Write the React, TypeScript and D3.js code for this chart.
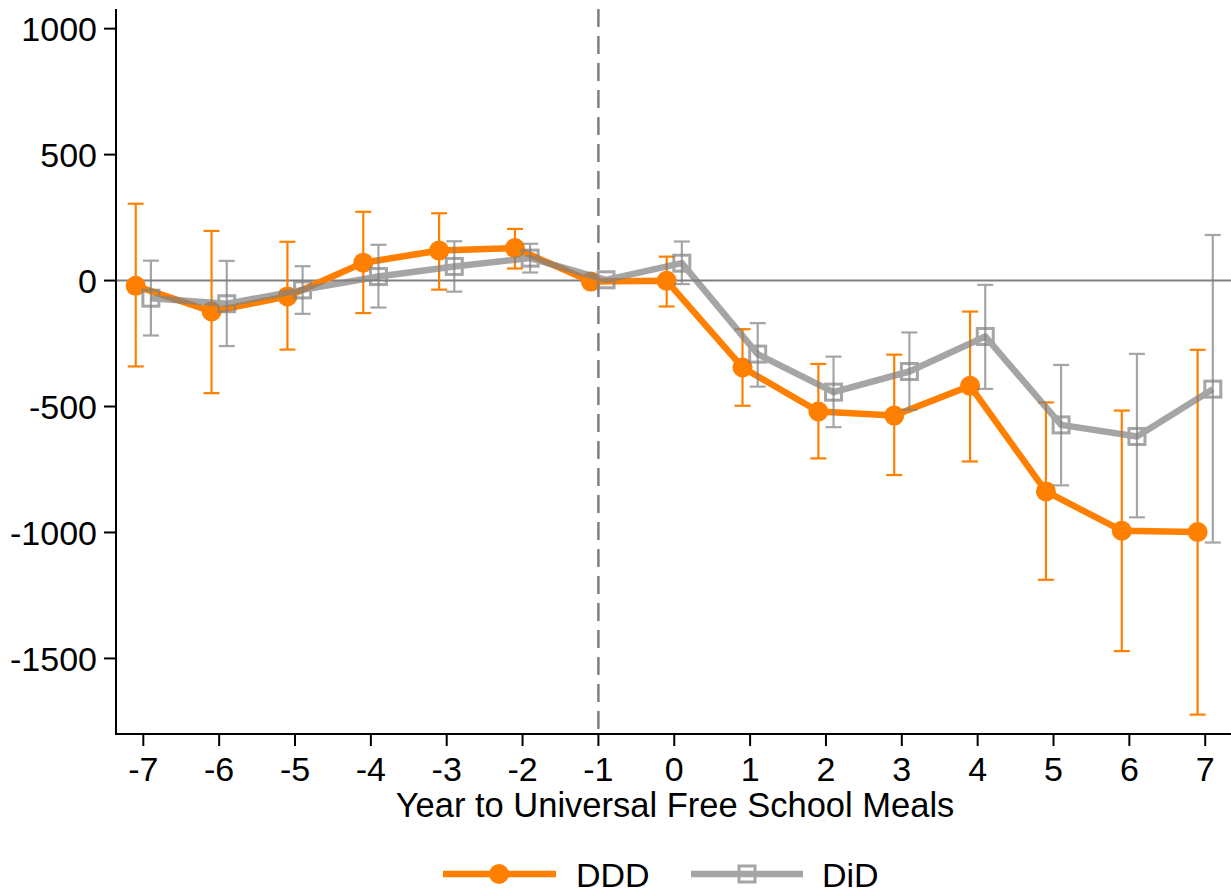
import React from "react";
import * as d3 from "d3";

// event time
const years = [-7, -6, -5, -4, -3, -2, -1, 0, 1, 2, 3, 4, 5, 6, 7];

// DDD estimates (orange, circles); reference year -1 has no CI
const dddEst = [-21, -123, -63, 71, 119, 129, -4, -1, -345, -520, -536, -418, -837, -993, -998];
const dddLo = [-341, -447, -274, -129, -36, 48, null, -103, -497, -706, -772, -718, -1188, -1471, -1723];
const dddHi = [305, 197, 154, 273, 267, 205, null, 95, -193, -331, -294, -123, -484, -516, -275];

// DiD estimates (gray, hollow squares)
const didEst = [-70, -92, -37, 16, 56, 89, 3, 69, -292, -443, -361, -222, -573, -619, -431];
const didLo = [-218, -260, -132, -107, -44, 32, null, -14, -421, -582, -513, -430, -813, -940, -1040];
const didHi = [79, 78, 57, 142, 156, 146, null, 155, -169, -302, -206, -17, -335, -291, 181];

const yTicks = [1000, 500, 0, -500, -1000, -1500];
const xTitle = "Year to Universal Free School Meals";

const ORANGE = "#ff8000";
const GRAY = "#808080";
const FONT = "'Liberation Sans', Arial, Helvetica, sans-serif";

export default function App() {
  const W = 1231, H = 895;
  const margin = { top: 9, right: 0, bottom: 161, left: 116 };

  const x = d3.scaleLinear().domain([-7.36, 7.34]).range([margin.left, W - margin.right]);
  const y = d3.scaleLinear().domain([-1800, 1078]).range([H - margin.bottom, margin.top]);

  const off = 0.1;
  const cap = 8;

  const dddPts = years.map((yr, i) => [x(yr - off), y(dddEst[i])] as [number, number]);
  const didPts = years.map((yr, i) => [x(yr + off), y(didEst[i])] as [number, number]);
  const line = d3.line();

  const bars = (lo: (number | null)[], hi: (number | null)[], shift: number, color: string, opacity: number) =>
    years.map((yr, i) => {
      if (lo[i] == null || hi[i] == null) return null;
      const cx = x(yr + shift);
      const y1 = y(hi[i] as number), y2 = y(lo[i] as number);
      return (
        <g key={i} stroke={color} strokeWidth={2.2} opacity={opacity}>
          <line x1={cx} x2={cx} y1={y1} y2={y2} />
          <line x1={cx - cap} x2={cx + cap} y1={y1} y2={y1} />
          <line x1={cx - cap} x2={cx + cap} y1={y2} y2={y2} />
        </g>
      );
    });

  const x0 = margin.left, yBottom = H - margin.bottom;
  const legY = 874;
  const fs = 34;

  return (
    <svg width={W} height={H} style={{ position: "absolute", left: 0, top: 0, background: "#fff" }} fontFamily={FONT}>
      {/* reference lines */}
      <line x1={x0} x2={W} y1={y(0)} y2={y(0)} stroke={GRAY} strokeWidth={2} />
      <line x1={x(-1)} x2={x(-1)} y1={margin.top} y2={yBottom} stroke={GRAY} strokeWidth={2.5} strokeDasharray="18,9" />

      {/* DDD */}
      {bars(dddLo, dddHi, -off, ORANGE, 1)}
      <path d={line(dddPts) || ""} fill="none" stroke={ORANGE} strokeWidth={6.5} strokeLinejoin="round" />
      {dddPts.map((p, i) => (
        <circle key={i} cx={p[0]} cy={p[1]} r={10} fill={ORANGE} />
      ))}

      {/* DiD */}
      {bars(didLo, didHi, off, GRAY, 0.7)}
      <g opacity={0.7}>
        <path d={line(didPts) || ""} fill="none" stroke={GRAY} strokeWidth={6.5} strokeLinejoin="round" />
        {didPts.map((p, i) => (
          <rect key={i} x={p[0] - 8} y={p[1] - 8} width={16} height={16} fill="none" stroke={GRAY} strokeWidth={3} />
        ))}
      </g>

      {/* axes */}
      <line x1={x0} x2={x0} y1={margin.top} y2={yBottom + 1} stroke="#000" strokeWidth={2} />
      <line x1={x0 - 1} x2={W} y1={yBottom} y2={yBottom} stroke="#000" strokeWidth={2} />
      {yTicks.map((t) => (
        <g key={t}>
          <line x1={x0 - 12} x2={x0} y1={y(t)} y2={y(t)} stroke="#000" strokeWidth={2} />
          <text x={x0 - 19} y={y(t)} dy="0.36em" textAnchor="end" fontSize={fs}>{t}</text>
        </g>
      ))}
      {years.map((t) => (
        <g key={t}>
          <line x1={x(t)} x2={x(t)} y1={yBottom} y2={yBottom + 12} stroke="#000" strokeWidth={2} />
          <text x={x(t)} y={781} textAnchor="middle" fontSize={fs}>{t}</text>
        </g>
      ))}
      <text x={675} y={817} textAnchor="middle" fontSize={34.5}>{xTitle}</text>

      {/* legend */}
      <line x1={443} x2={556} y1={legY} y2={legY} stroke={ORANGE} strokeWidth={6.5} />
      <circle cx={499} cy={legY} r={10} fill={ORANGE} />
      <text x={576} y={887} fontSize={fs}>DDD</text>
      <g opacity={0.7}>
        <line x1={691} x2={803} y1={legY} y2={legY} stroke={GRAY} strokeWidth={6.5} />
        <rect x={747 - 8} y={legY - 8} width={16} height={16} fill="none" stroke={GRAY} strokeWidth={3} />
      </g>
      <text x={822} y={887} fontSize={fs}>DiD</text>
    </svg>
  );
}
